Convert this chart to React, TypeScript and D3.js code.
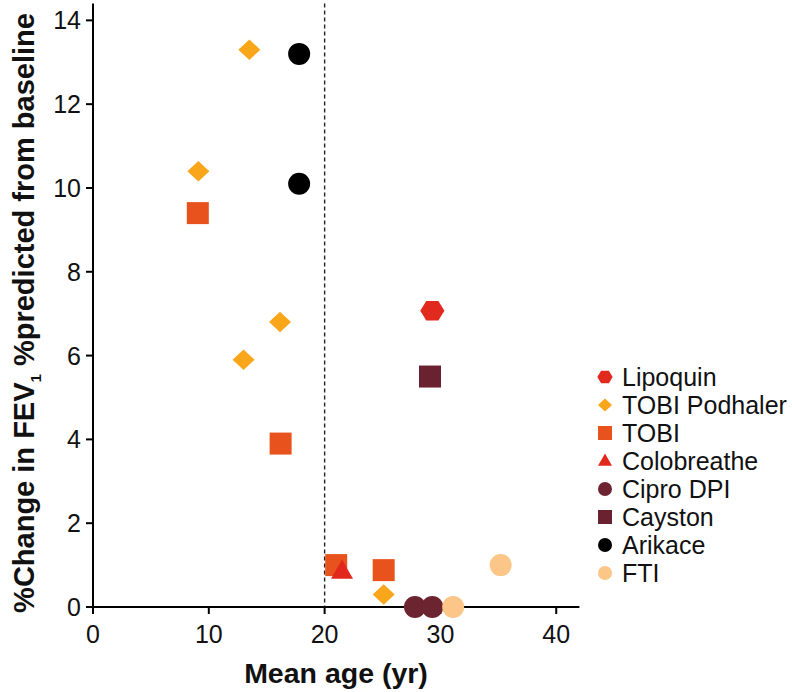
import React from "react";
import * as d3 from "d3";

const seriesNames = ["Lipoquin", "TOBI Podhaler", "TOBI", "Colobreathe", "Cipro DPI", "Cayston", "Arikace", "FTI"];
const seriesShapes = ["hexagon", "diamond", "square", "triangle", "circle", "square", "circle", "circle"];
const seriesColors = ["#E2291E", "#F9A61B", "#E8521C", "#E2281C", "#6D2431", "#6B2230", "#000000", "#FBC688"];

const lipoquinAge = [29.3];
const lipoquinFev = [7.07];
const tobiPodhalerAge = [13.5, 9.1, 16.15, 13.0, 25.1];
const tobiPodhalerFev = [13.3, 10.4, 6.8, 5.9, 0.3];
const tobiAge = [9.05, 16.2, 21.0, 25.1];
const tobiFev = [9.4, 3.9, 1.0, 0.88];
const colobreatheAge = [21.5];
const colobreatheFev = [0.85];
const ciproAge = [27.8, 29.3];
const ciproFev = [0, 0];
const caystonAge = [29.1];
const caystonFev = [5.5];
const arikaceAge = [17.8, 17.8];
const arikaceFev = [13.2, 10.1];
const ftiAge = [31.1, 35.2];
const ftiFev = [0, 1.0];

const seriesAges = [lipoquinAge, tobiPodhalerAge, tobiAge, colobreatheAge, ciproAge, caystonAge, arikaceAge, ftiAge];
const seriesFevs = [lipoquinFev, tobiPodhalerFev, tobiFev, colobreatheFev, ciproFev, caystonFev, arikaceFev, ftiFev];

const xTicks = [0, 10, 20, 30, 40];
const yTicks = [0, 2, 4, 6, 8, 10, 12, 14];
const thresholdAge = 20;

const FONT = "'Liberation Sans', Arial, Helvetica, sans-serif";

function shapePath(shape: string, s: number): string {
  const h = s / 2;
  switch (shape) {
    case "circle": {
      const p = d3.path();
      p.arc(0, 0, h, 0, Math.PI * 2);
      p.closePath();
      return p.toString();
    }
    case "square":
      return `M${-h},${-h}L${h},${-h}L${h},${h}L${-h},${h}Z`;
    case "diamond": {
      const r = h * 1.0;
      return `M0,${-r * 0.93}L${r},0L0,${r * 0.93}L${-r},0Z`;
    }
    case "triangle": {
      const w = h;
      const th = s * 0.87;
      return `M0,${-th * 0.62}L${w},${th * 0.38}L${-w},${th * 0.38}Z`;
    }
    case "hexagon": {
      const r = h * 1.1;
      const pts = d3.range(6).map((i) => {
        const a = (Math.PI / 3) * i;
        return [r * Math.cos(a), r * Math.sin(a) * 0.92];
      });
      return "M" + pts.map((p) => p.join(",")).join("L") + "Z";
    }
  }
  return "";
}

export default function App() {
  const x = d3.scaleLinear().domain([0, 42]).range([93, 579.4]);
  const y = d3.scaleLinear().domain([0, 14.4]).range([607, 3.6]);
  const markerSize = 22;
  const legendX = 605;
  const legendY0 = 377;
  const legendStep = 28;

  return (
    <svg width={792} height={692} style={{ position: "absolute", left: 0, top: 0, background: "#fff" }}>
      <rect x={0} y={0} width={792} height={692} fill="#fff" />
      {/* threshold line */}
      <line x1={x(thresholdAge)} x2={x(thresholdAge)} y1={y(14.4)} y2={y(0)} stroke="#222" strokeWidth={1.4} strokeDasharray="4,3" />
      {/* axes */}
      <line x1={x(0)} x2={x(42)} y1={y(0)} y2={y(0)} stroke="#000" strokeWidth={2} />
      <line x1={x(0)} x2={x(0)} y1={y(0)} y2={y(14.4)} stroke="#000" strokeWidth={2} />
      {xTicks.map((t) => (
        <g key={"xt" + t}>
          <line x1={x(t)} x2={x(t)} y1={y(0)} y2={y(0) + 7} stroke="#000" strokeWidth={2} />
          <text x={x(t)} y={643} textAnchor="middle" fontFamily={FONT} fontSize={25} fill="#111">{t}</text>
        </g>
      ))}
      {yTicks.map((t) => (
        <g key={"yt" + t}>
          <line x1={x(0) - 7} x2={x(0)} y1={y(t)} y2={y(t)} stroke="#000" strokeWidth={2} />
          <text x={81} y={y(t)} dy="0.36em" textAnchor="end" fontFamily={FONT} fontSize={25} fill="#111">{t}</text>
        </g>
      ))}
      {/* axis titles */}
      <text x={336} y={683} textAnchor="middle" fontFamily={FONT} fontSize={28.5} fontWeight="bold" fill="#111">Mean age (yr)</text>
      <text transform="translate(34,313) rotate(-90)" textAnchor="middle" fontFamily={FONT} fontSize={29} fontWeight="bold" fill="#111">
        %Change in FEV<tspan fontSize={15} dy={7}>1</tspan><tspan dy={-7}> %predicted from baseline</tspan>
      </text>
      {/* points */}
      {seriesNames.map((name, si) => (
        <g key={name}>
          {seriesAges[si].map((a, i) => (
            <path key={i} d={shapePath(seriesShapes[si], markerSize)} transform={`translate(${x(a)},${y(seriesFevs[si][i])})`} fill={seriesColors[si]} />
          ))}
        </g>
      ))}
      {/* legend */}
      {seriesNames.map((name, si) => (
        <g key={"lg" + name} transform={`translate(${legendX},${legendY0 + si * legendStep})`}>
          <path d={shapePath(seriesShapes[si], 14)} fill={seriesColors[si]} />
          <text x={17} y={0} dy="0.36em" fontFamily={FONT} fontSize={25} fill="#111">{name}</text>
        </g>
      ))}
    </svg>
  );
}
